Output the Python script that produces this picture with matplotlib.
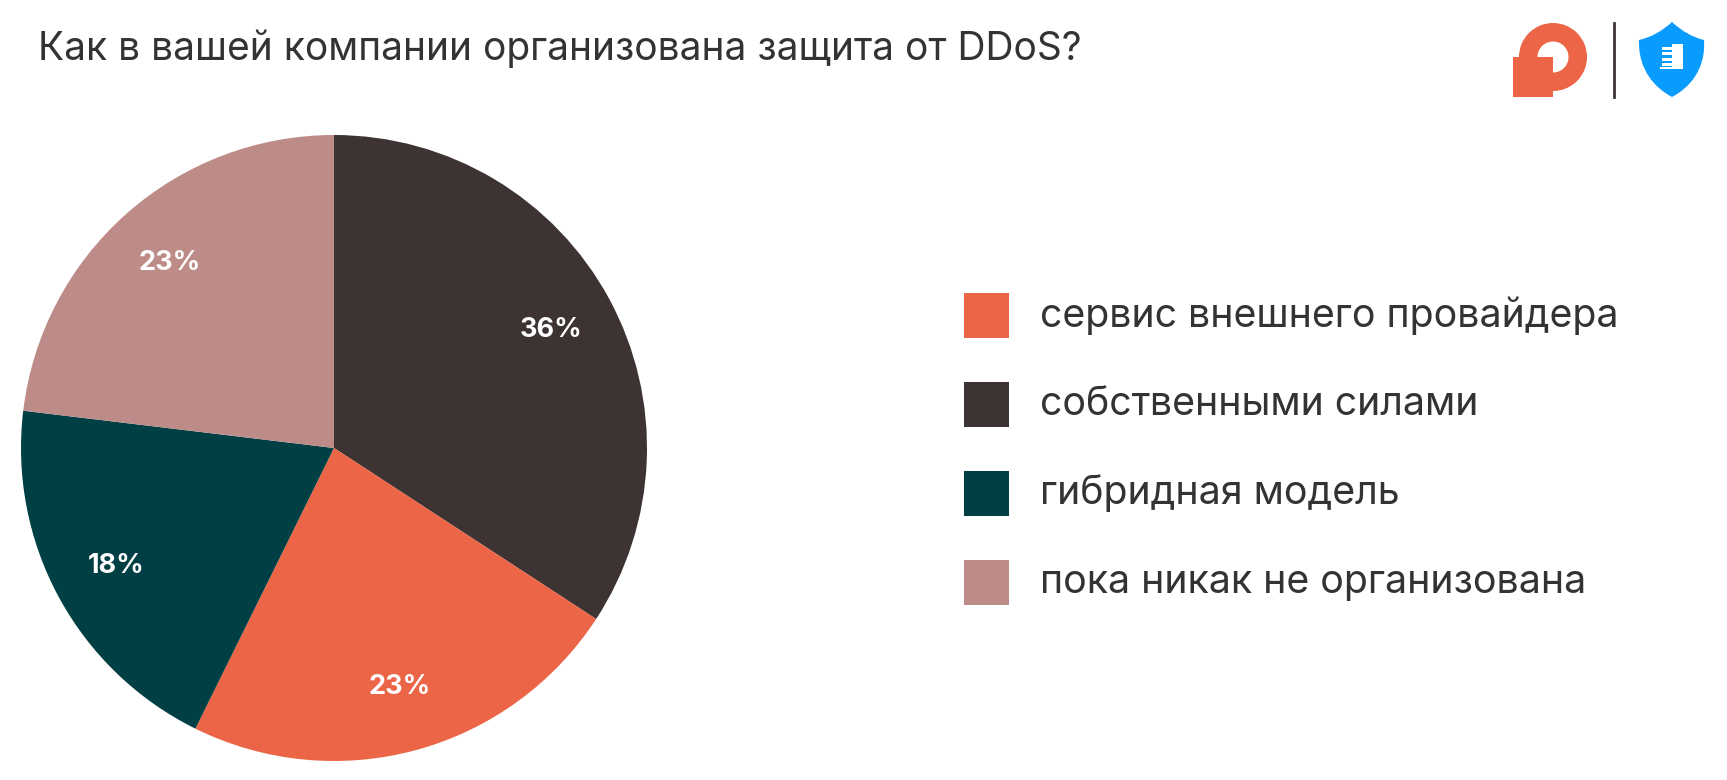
import matplotlib
matplotlib.use("Agg")
import matplotlib.pyplot as plt
from matplotlib.patches import Rectangle, Wedge, PathPatch
from matplotlib.path import Path

plt.rcParams['font.family'] = ['Inter', 'DejaVu Sans']

title = "Как в вашей компании организована защита от DDoS?"

# legend order
categories = ["сервис внешнего провайдера", "собственными силами",
              "гибридная модель", "пока никак не организована"]
shares = [23.1, 34.2, 19.6, 23.1]          # slice sizes
pct_labels = ["23%", "36%", "18%", "23%"]   # labels as printed
colors = ["#EC6547", "#3D3333", "#003F43", "#BE8C88"]

# clockwise from the top: dark, orange, teal, pink
pie_order = [1, 0, 2, 3]

W, H = 1727, 780
fig = plt.figure(figsize=(W / 100, H / 100), dpi=100)

# pie, centre (334, 448) px, radius 313 px
cx, cy, r = 334, 448, 313
ax = fig.add_axes([(cx - r) / W, (H - cy - r) / H, 2 * r / W, 2 * r / H])
wedges, texts = ax.pie(
    [shares[i] for i in pie_order],
    colors=[colors[i] for i in pie_order],
    labels=[pct_labels[i] for i in pie_order],
    labeldistance=0.79,
    startangle=90, counterclock=False,
    textprops=dict(color="white", fontsize=19.5, fontweight="bold"),
)
for t in texts:
    t.set_ha("center")
    t.set_va("center")
ax.set_xlim(-1, 1)
ax.set_ylim(-1, 1)
ax.set_aspect("equal")

# overlay in pixel coordinates for title, legend and logos
ov = fig.add_axes([0, 0, 1, 1])
ov.set_xlim(0, W)
ov.set_ylim(H, 0)
ov.axis("off")
ov.patch.set_alpha(0)

ov.text(38, 49, title, fontsize=28, color="#333333", va="center", ha="left")

for k, (name, col) in enumerate(zip(categories, colors)):
    yc = 315.5 + k * 89
    ov.add_patch(Rectangle((964, yc - 22.5), 45, 45, color=col, lw=0))
    ov.text(1040, yc, name, fontsize=28.3, color="#333333", va="center", ha="left")

# orange logo
orange = "#EC6547"
ov.add_patch(Wedge((1553, 57), 34, 0, 360, width=18.5, color=orange, lw=0))
ov.add_patch(Rectangle((1513, 57), 40, 40, color=orange, lw=0))

# divider
ov.plot([1614, 1614], [23, 97], color="#3D3333", lw=2)

# shield logo
verts = [(1672, 22), (1657, 36), (1639, 40),
         (1638, 70), (1655, 88), (1672, 97),
         (1689, 88), (1706, 70), (1704, 40),
         (1687, 36), (1672, 22), (1672, 22)]
codes = [Path.MOVETO, Path.CURVE3, Path.CURVE3,
         Path.CURVE4, Path.CURVE4, Path.CURVE4,
         Path.CURVE4, Path.CURVE4, Path.CURVE4,
         Path.CURVE3, Path.CURVE3, Path.CLOSEPOLY]
ov.add_patch(PathPatch(Path(verts, codes), facecolor="#0A9BFF", lw=0))
ov.add_patch(Rectangle((1672, 44), 11, 24, color="white", lw=0))
for yy in [48, 53.5, 59, 64.5]:
    ov.add_patch(Rectangle((1662, yy - 1.5), 10, 3.2, color="white", lw=0))
ov.add_patch(Rectangle((1660, 66.5), 23, 2.5, color="white", lw=0))

fig.savefig("out.png", dpi=100)
